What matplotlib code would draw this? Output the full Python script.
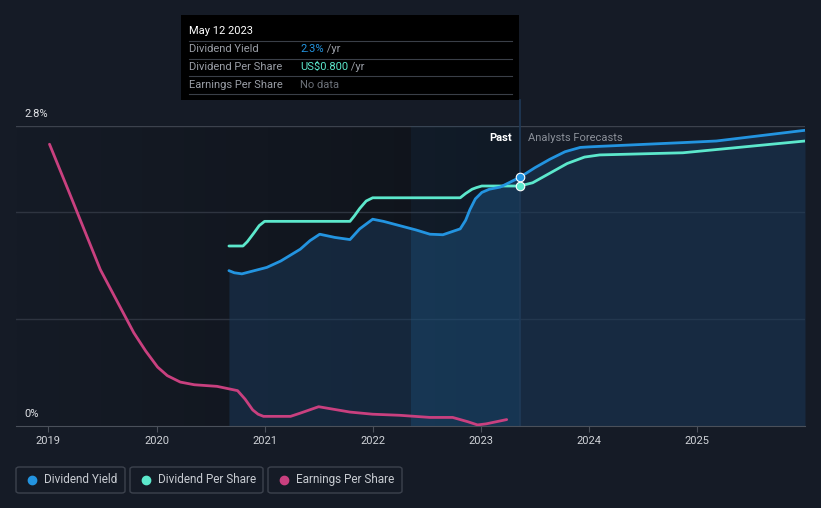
import numpy as np
import matplotlib
matplotlib.use("Agg")
from matplotlib import pyplot as plt
from matplotlib.patches import Rectangle, FancyBboxPatch
from matplotlib.colors import LinearSegmentedColormap

plt.rcParams["font.family"] = ["Roboto", "DejaVu Sans"]

# 数据
yield_x = [2020.67, 2020.72, 2020.79, 2021.02, 2021.15, 2021.33, 2021.42, 2021.51, 2021.65, 2021.79,
           2021.88, 2022.0, 2022.1, 2022.25, 2022.4, 2022.53, 2022.65, 2022.81, 2022.86, 2022.9,
           2022.95, 2023.01, 2023.08, 2023.18, 2023.36, 2023.5, 2023.64, 2023.78, 2023.92, 2024.0,
           2024.10, 2024.87, 2025.18, 2026.0]
yield_y = [1.45, 1.43, 1.42, 1.48, 1.54, 1.65, 1.73, 1.79, 1.76, 1.74,
           1.84, 1.93, 1.91, 1.87, 1.83, 1.79, 1.785, 1.84, 1.92, 2.02,
           2.12, 2.18, 2.21, 2.23, 2.32, 2.41, 2.49, 2.56, 2.60, 2.605,
           2.61, 2.645, 2.66, 2.76]

dps_x = [2020.67, 2020.80, 2020.84, 2020.90, 2020.95, 2021.0, 2021.79, 2021.83, 2021.88, 2021.94,
         2022.0, 2022.81, 2022.86, 2022.92, 2022.96, 2023.01, 2023.36, 2023.48, 2023.64, 2023.8,
         2023.96, 2024.1, 2024.87, 2026.0]
dps_y = [1.68, 1.68, 1.72, 1.80, 1.87, 1.91, 1.91, 1.96, 2.03, 2.10,
         2.13, 2.13, 2.17, 2.21, 2.225, 2.24, 2.24, 2.27, 2.36, 2.45,
         2.51, 2.53, 2.55, 2.66]

eps_x = [2019.01, 2019.18, 2019.48, 2019.79, 2019.9, 2020.01, 2020.1, 2020.22, 2020.35, 2020.56,
         2020.75, 2020.82, 2020.89, 2020.94, 2020.99, 2021.24, 2021.33, 2021.50, 2021.79, 2022.0,
         2022.25, 2022.53, 2022.74, 2022.88, 2022.97, 2023.05, 2023.24]
eps_y = [2.63, 2.21, 1.46, 0.87, 0.70, 0.55, 0.47, 0.41, 0.385, 0.37,
         0.33, 0.25, 0.15, 0.11, 0.09, 0.09, 0.12, 0.18, 0.13, 0.11,
         0.10, 0.08, 0.08, 0.04, 0.01, 0.02, 0.06]

years = [2019, 2020, 2021, 2022, 2023, 2024, 2025]
now_x = 2023.36
band_start = 2022.35
xmin, xmax = 2018.70, 2026.0
ymax = 2.8

BG = "#151b26"
BLUE = "#2394e0"
TEAL = "#5ce8cc"
PINK = "#c9407f"

W, H = 821, 508


def fx(px):
    return px / W


def fy(py):
    return 1 - py / H


fig = plt.figure(figsize=(8.21, 5.08), dpi=100, facecolor=BG)
ax = fig.add_axes([fx(16), fy(426), fx(805) - fx(16), fy(126) - fy(426)])
ax.set_facecolor(BG)
ax.set_xlim(xmin, xmax)
ax.set_ylim(0, ymax)

# 过去区域背景渐变
cmap = LinearSegmentedColormap.from_list("past", ["#151b26", "#0f131a"])
grad = np.linspace(0, 1, 256).reshape(1, -1)
ax.imshow(grad, extent=[xmin, now_x, 0, ymax], aspect="auto", cmap=cmap, zorder=0)

# 网格
for g in [1, 2, 2.8]:
    ax.axhline(g, color="#2e3440" if g < 2.8 else "#3c424d", lw=1, zorder=1)

ax.fill_between(yield_x, yield_y, 0, color="#1a3a5c", alpha=0.5, lw=0, zorder=2)
ax.axvspan(band_start, now_x, color="#1e5480", alpha=0.12, lw=0, zorder=2)
band_x = [x for x in yield_x if band_start <= x <= now_x]
band_y = [y for x, y in zip(yield_x, yield_y) if band_start <= x <= now_x]
ax.fill_between([band_start] + band_x, [1.835] + band_y, 0, color="#1e5a8a", alpha=0.22, lw=0, zorder=2)

ax.plot([now_x, now_x], [0, 3.04], color="#1f3a58", lw=1.2, clip_on=False, zorder=2)

ax.plot(dps_x, dps_y, color=TEAL, lw=2.0, zorder=4, solid_capstyle="round")
ax.plot(yield_x, yield_y, color=BLUE, lw=2.0, zorder=5, solid_capstyle="round")
ax.plot(eps_x, eps_y, color=PINK, lw=2.0, zorder=4, solid_capstyle="round")

ax.scatter([now_x], [2.32], s=38, color=BLUE, edgecolor="white", lw=0.8, zorder=6)
ax.scatter([now_x], [2.24], s=38, color=TEAL, edgecolor="white", lw=0.8, zorder=6)

for s in ["top", "right", "left"]:
    ax.spines[s].set_visible(False)
ax.spines["bottom"].set_color("#4a505a")
ax.set_yticks([])
ax.set_xticks(years)
ax.set_xticklabels([str(y) for y in years])
ax.tick_params(axis="x", colors="#4a505a", labelcolor="#d0d3d8", labelsize=8, length=4, pad=3)

fig.text(fx(24), fy(114), "2.8%", color="#e0e2e6", fontsize=8, va="center")
fig.text(fx(24), fy(414), "0%", color="#e0e2e6", fontsize=8, va="center")

fig.text(fx(512), fy(138), "Past", color="white", fontsize=8, ha="right", va="center", fontweight="bold")
fig.text(fx(528), fy(138), "Analysts Forecasts", color="#8a8f98", fontsize=8, ha="left", va="center")

# 提示框
fig.patches.append(Rectangle((fx(181), fy(100)), fx(519) - fx(181), fy(15) - fy(100),
                             transform=fig.transFigure, facecolor="black", edgecolor="none", zorder=10))
fig.text(fx(189), fy(31), "May 12 2023", color="white", fontsize=8, va="center", zorder=11)
rows = [("Dividend Yield", "2.3%", BLUE, " /yr"),
        ("Dividend Per Share", "US$0.800", TEAL, " /yr"),
        ("Earnings Per Share", "No data", "#6b7078", "")]
for i, (lab, val, col, suf) in enumerate(rows):
    yline = 41 + 17.5 * i
    fig.add_artist(plt.Line2D([fx(189), fx(512)], [fy(yline), fy(yline)], color="#3a3f48", lw=0.8,
                              transform=fig.transFigure, zorder=11))
    yt = yline + 8.5
    fig.text(fx(189), fy(yt), lab, color="#9a9ea6", fontsize=8, va="center", zorder=11)
    t = fig.text(fx(300), fy(yt), val, color=col, fontsize=8, va="center", zorder=11)
    if suf:
        fig.canvas.draw()
        bb = t.get_window_extent()
        fig.text(bb.x1 / W, fy(yt), suf, color="#9a9ea6", fontsize=8, va="center", zorder=11)
fig.add_artist(plt.Line2D([fx(189), fx(512)], [fy(93.5), fy(93.5)], color="#3a3f48", lw=0.8,
                          transform=fig.transFigure, zorder=11))

# 图例
legend_items = [("Dividend Yield", BLUE, 16, 125), ("Dividend Per Share", TEAL, 130, 263),
                ("Earnings Per Share", PINK, 268, 402)]
for lab, col, x0, x1 in legend_items:
    fig.patches.append(FancyBboxPatch((fx(x0), fy(493)), fx(x1) - fx(x0), fy(467) - fy(493),
                                      boxstyle="round,pad=0,rounding_size=0.004",
                                      transform=fig.transFigure, facecolor="none",
                                      edgecolor="#3c424d", lw=1))
    fig.add_artist(plt.Line2D([fx(x0 + 16)], [fy(479.5)], marker="o", markersize=6, color=col,
                              transform=fig.transFigure, lw=0))
    fig.text(fx(x0 + 28), fy(479.5), lab, color="#c8ccd2", fontsize=8.5, va="center")

fig.savefig("out.png", dpi=100, facecolor=BG)
